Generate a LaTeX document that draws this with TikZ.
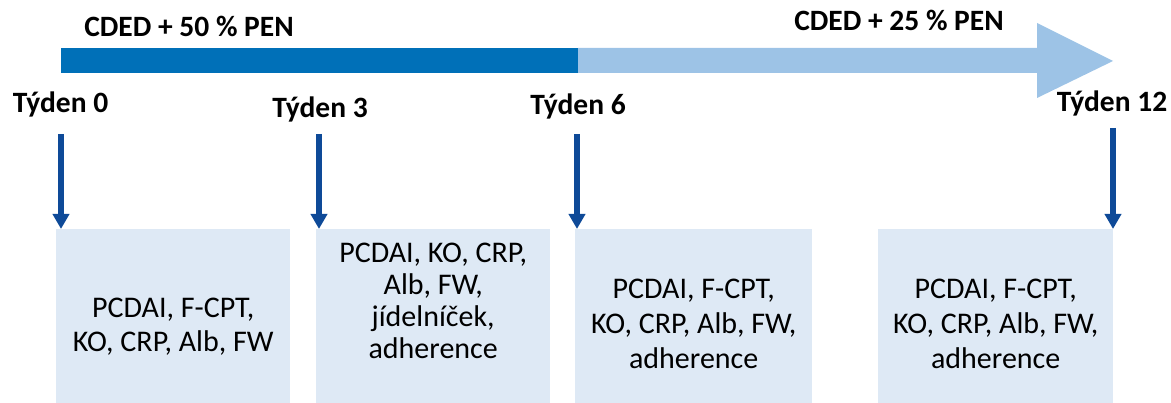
\documentclass[tikz,border=0pt]{standalone}
\usepackage{fontspec}
\setmainfont{Carlito}
\usetikzlibrary{arrows.meta}
\definecolor{darkbar}{RGB}{0,112,184}
\definecolor{lightbar}{RGB}{157,195,230}
\definecolor{boxfill}{RGB}{222,233,245}
\definecolor{arrowblue}{RGB}{14,74,152}
\begin{document}
\begin{tikzpicture}[x=1pt,y=-1pt,
  boldlabel/.style={font=\fontsize{29.5}{34}\selectfont\bfseries, inner sep=0pt, anchor=base},
  infobox/.style={fill=boxfill, draw=none, inner sep=0pt, anchor=north west, minimum height=174pt},
  boxtext/.style={inner sep=0pt, align=center, anchor=north, font=\fontsize{30}{34}\selectfont},
  downarrow/.style={draw=arrowblue, line width=5.5pt, -{Triangle[width=16pt,length=15pt]}}
]
\useasboundingbox (0,0) rectangle (1171,403);
% timeline bar
\fill[darkbar] (61,48) rectangle (578,73);
\fill[lightbar] (578,48) -- (1037,48) -- (1037,23) -- (1113,61) -- (1037,98) -- (1037,73) -- (578,73) -- cycle;
\node[boldlabel] (p1) at (189,37) {CDED + 50 \% PEN};
\node[boldlabel] (p2) at (899,31) {CDED + 25 \% PEN};
% week labels
\node[boldlabel] (w0) at (60.5,113) {Týden 0};
\node[boldlabel] (w3) at (320,118) {Týden 3};
\node[boldlabel] (w6) at (578,115) {Týden 6};
\node[boldlabel] (w12) at (1112,112) {Týden 12};
% boxes
\node[infobox, minimum width=234pt] (b1) at (56,229) {};
\node[infobox, minimum width=234pt] (b2) at (316,229) {};
\node[infobox, minimum width=237pt] (b3) at (575,229) {};
\node[infobox, minimum width=235pt] (b4) at (878,229) {};
\node[boxtext] (t1) at (b1.center |- 0,294) {\strut PCDAI, F-CPT,\\\strut KO, CRP, Alb, FW};
\node[boxtext, font=\fontsize{30}{32}\selectfont] (t2) at (b2.center |- 0,239.6) {\strut PCDAI, KO, CRP,\\\strut Alb, FW,\\\strut jídelníček,\\\strut adherence};
\node[boxtext, font=\fontsize{30}{35}\selectfont] (t3) at (b3.center |- 0,273.5) {\strut PCDAI, F-CPT,\\\strut KO, CRP, Alb, FW,\\\strut adherence};
\node[boxtext, font=\fontsize{30}{35}\selectfont] (t4) at (b4.center |- 0,273.5) {\strut PCDAI, F-CPT,\\\strut KO, CRP, Alb, FW,\\\strut adherence};
% arrows
\coordinate (a0) at (61,134);
\coordinate (a3) at (319,134);
\coordinate (a6) at (577,134);
\coordinate (a12) at (1113,128);
\draw[downarrow] (a0) -- (a0 |- b1.north);
\draw[downarrow] (a3) -- (a3 |- b2.north);
\draw[downarrow] (a6) -- (a6 |- b3.north);
\draw[downarrow] (a12) -- (a12 |- b4.north);
\end{tikzpicture}
\end{document}
